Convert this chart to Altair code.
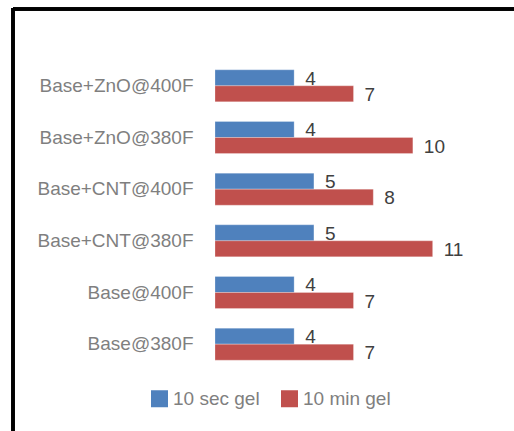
import altair as alt
import pandas as pd

# Gel strength readings per formulation
categories = [
    "Base+ZnO@400F",
    "Base+ZnO@380F",
    "Base+CNT@400F",
    "Base+CNT@380F",
    "Base@400F",
    "Base@380F",
]
sec_gel = [4, 4, 5, 5, 4, 4]
min_gel = [7, 10, 8, 11, 7, 7]
series = ["10 sec gel", "10 min gel"]
colors = ["#4F81BD", "#C0504D"]

rows = []
for cat, s, m in zip(categories, sec_gel, min_gel):
    rows.append({"Formulation": cat, "Series": series[0], "Value": s})
    rows.append({"Formulation": cat, "Series": series[1], "Value": m})
df = pd.DataFrame(rows)

FONT = "Liberation Sans"
W, H = 277, 310

y_enc = alt.Y(
    "Formulation:N",
    sort=categories,
    scale=alt.Scale(paddingInner=0.38, paddingOuter=0.19),
    axis=alt.Axis(
        title=None,
        ticks=False,
        domain=False,
        grid=False,
        labelFont=FONT,
        labelFontSize=19,
        labelColor="#7F7F7F",
        labelPadding=22,
        labelLimit=300,
    ),
)
x_enc = alt.X(
    "Value:Q",
    scale=alt.Scale(domain=[0, 14], nice=False),
    axis=None,
)
y_off = alt.YOffset("Series:N", sort=series, scale=alt.Scale(paddingInner=0, paddingOuter=0))

bars = alt.Chart(df).mark_bar(stroke="white", strokeOpacity=0.5, strokeWidth=0.5).encode(
    y=y_enc,
    x=x_enc,
    yOffset=y_off,
    color=alt.Color(
        "Series:N",
        sort=series,
        scale=alt.Scale(domain=series, range=colors),
        legend=alt.Legend(
            title=None,
            orient="none",
            legendX=-65,
            legendY=329,
            direction="horizontal",
            symbolType="square",
            symbolSize=289,
            symbolStrokeWidth=0,
            labelFont=FONT,
            labelFontSize=19,
            labelColor="#7F7F7F",
            labelOffset=4,
            columnPadding=20,
        ),
    ),
)

labels = alt.Chart(df).mark_text(
    align="left", baseline="middle", dx=11, dy=1, font=FONT, fontSize=19, color="#404040"
).encode(
    y=alt.Y("Formulation:N", sort=categories),
    x="Value:Q",
    yOffset=alt.YOffset("Series:N", sort=series),
    text="Value:Q",
)

# Outer frame along the left and top edges
frame_top = alt.Chart(df).mark_rule(color="black", strokeWidth=2.5).encode(
    x=alt.value(-202), x2=alt.value(310), y=alt.value(-51)
)
frame_left = alt.Chart(df).mark_rule(color="black", strokeWidth=2.5).encode(
    x=alt.value(-202), y=alt.value(-52), y2=alt.value(380)
)

chart = (
    alt.layer(bars, labels, frame_top, frame_left)
    .properties(
        width=W,
        height=H,
        padding={"left": 215, "top": 60, "right": 22, "bottom": 61},
        autosize=alt.AutoSizeParams(type="none"),
        background="white",
    )
    .configure_view(stroke=None)
)

chart.save("out.html", embed_options={"renderer": "svg", "actions": False})
